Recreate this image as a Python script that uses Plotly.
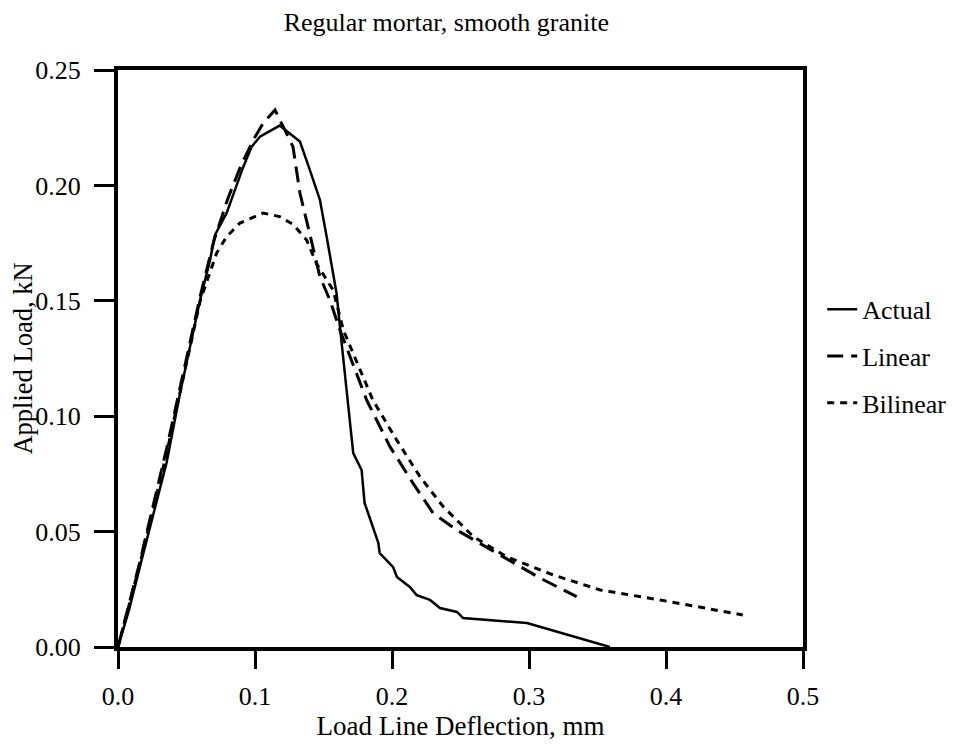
import plotly.graph_objects as go

# values (deflection mm, load kN)
actual_x = [0.0, 0.008, 0.016, 0.026, 0.0355, 0.0453, 0.0599, 0.0672, 0.0708, 0.0793, 0.0854,
            0.0914, 0.0976, 0.1036, 0.118, 0.1328, 0.140, 0.1474, 0.1523, 0.1596, 0.162,
            0.1717, 0.1778, 0.180, 0.190, 0.191, 0.2007, 0.2036, 0.213, 0.218, 0.2277,
            0.235, 0.2474, 0.2518, 0.2985, 0.359]
actual_y = [0.0, 0.016, 0.0348, 0.058, 0.080, 0.110, 0.1503, 0.1677, 0.1785, 0.188, 0.198,
            0.208, 0.2168, 0.2211, 0.2259, 0.219, 0.2067, 0.1937, 0.1778, 0.153, 0.1387,
            0.084, 0.0767, 0.0624, 0.0451, 0.0407, 0.0347, 0.0303, 0.026, 0.0225, 0.0204,
            0.0169, 0.0152, 0.0126, 0.0104, 0.0]

linear_x = [0.0, 0.016, 0.0355, 0.06, 0.07, 0.08, 0.09, 0.1, 0.106, 0.1146, 0.1277, 0.1328,
            0.1387, 0.1474, 0.1547, 0.162, 0.1815, 0.1985, 0.2153, 0.230, 0.2472, 0.2788,
            0.308, 0.3348]
linear_y = [0.0, 0.037, 0.086, 0.152, 0.176, 0.194, 0.209, 0.221, 0.227, 0.2327, 0.2168, 0.1967,
            0.1821, 0.1604, 0.1503, 0.1373, 0.107, 0.0868, 0.071, 0.058, 0.0507, 0.0399,
            0.0299, 0.0218]

bilinear_x = [0.0, 0.016, 0.0355, 0.06, 0.072, 0.0793, 0.089, 0.106, 0.118, 0.128, 0.1377,
              0.145, 0.157, 0.1645, 0.186, 0.2034, 0.2204, 0.2374, 0.2594, 0.2837, 0.3178,
              0.352, 0.3956, 0.456]
bilinear_y = [0.0, 0.036, 0.084, 0.150, 0.1707, 0.1778, 0.1837, 0.188, 0.1865, 0.183, 0.1763,
              0.166, 0.1547, 0.1373, 0.107, 0.0897, 0.0738, 0.0608, 0.0478, 0.0391, 0.0312,
              0.0247, 0.0204, 0.0139]

x_ticks = [0.0, 0.1, 0.2, 0.3, 0.4, 0.5]
y_ticks = [0.0, 0.05, 0.10, 0.15, 0.20, 0.25]

font = "Liberation Serif"

fig = go.Figure()
fig.add_trace(go.Scatter(x=actual_x, y=actual_y, mode="lines", name="Actual",
                         legendgroup="a", line=dict(color="black", width=2.5)))
fig.add_trace(go.Scatter(x=linear_x, y=linear_y, mode="lines", name="Linear",
                         legendgroup="b", line=dict(color="black", width=3, dash="16px,8px")))
fig.add_trace(go.Scatter(x=bilinear_x, y=bilinear_y, mode="lines", name="Bilinear",
                         legendgroup="c", line=dict(color="black", width=3, dash="7px,6px")))

# page body adds 8px, so the figure is 8px smaller than the window
fig.update_layout(
    width=951, height=736,
    margin=dict(l=110, r=156, t=62, b=97, autoexpand=False),
    paper_bgcolor="white", plot_bgcolor="white",
    font=dict(family=font, size=26, color="black"),
    title=dict(text="Regular mortar, smooth granite", x=0.461, xanchor="center",
               y=0.981, yanchor="middle", font=dict(family=font, size=26)),
    legend=dict(x=1.028, xanchor="left", y=0.626, yanchor="top", tracegroupgap=10,
                font=dict(family=font, size=26), itemwidth=30, bgcolor="rgba(0,0,0,0)"),
    showlegend=True,
)
fig.update_xaxes(range=[0, 0.5], tickvals=x_ticks, tickformat=".1f",
                 tickfont=dict(family=font, size=26),
                 showgrid=False, zeroline=False, showline=True, linecolor="black",
                 linewidth=4, mirror=True, ticks="outside", ticklen=18, tickwidth=3,
                 tickcolor="black", ticklabelstandoff=5, automargin=False,
                 title=dict(text="Load Line Deflection, mm", standoff=4,
                            font=dict(family=font, size=27)))
fig.update_yaxes(range=[0, 0.25], tickvals=y_ticks, tickformat=".2f",
                 tickfont=dict(family=font, size=26),
                 showgrid=False, zeroline=False, showline=True, linecolor="black",
                 linewidth=4, mirror=True, ticks="outside", ticklen=20, tickwidth=3,
                 tickcolor="black", ticklabelstandoff=8, automargin=False,
                 title=dict(text="Applied Load, kN", standoff=1,
                            font=dict(family=font, size=26.5)))

fig.write_html("out.html")
